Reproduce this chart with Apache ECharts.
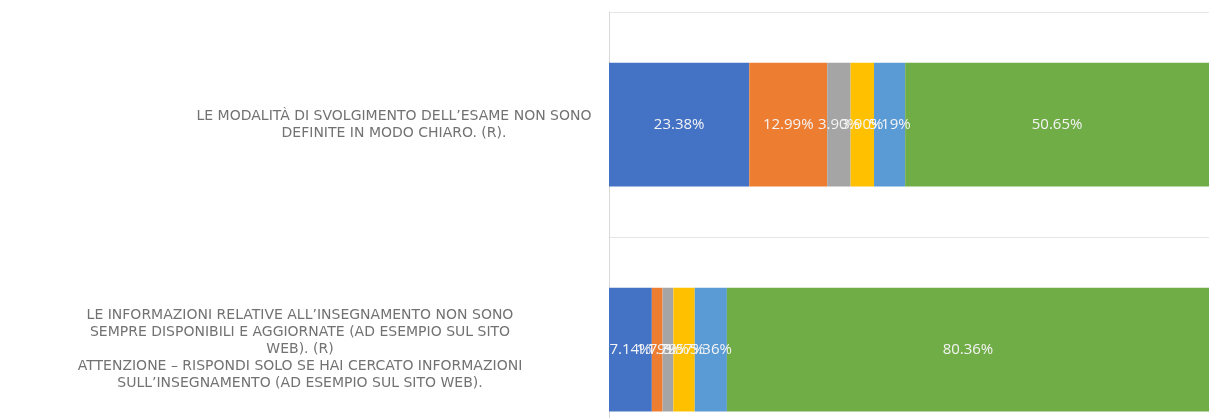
<!DOCTYPE html>
<html>
<head>
<meta charset="utf-8">
<style>
  html, body { margin: 0; padding: 0; background: #fff; }
  #chart { width: 1211px; height: 418px; }
</style>
<script src="https://cdn.jsdelivr.net/npm/echarts@6/dist/echarts.min.js"></script>
</head>
<body>
<div id="chart"></div>
<script>
// domande (categorie, dall'alto in basso)
const categories = [
  ['LE MODALITÀ DI SVOLGIMENTO DELL’ESAME NON SONO', 'DEFINITE IN MODO CHIARO. (R).'],
  ['LE INFORMAZIONI RELATIVE ALL’INSEGNAMENTO NON SONO', 'SEMPRE DISPONIBILI E AGGIORNATE (AD ESEMPIO SUL SITO', 'WEB). (R)', 'ATTENZIONE – RISPONDI SOLO SE HAI CERCATO INFORMAZIONI', 'SULL’INSEGNAMENTO (AD ESEMPIO SUL SITO WEB).']
]

// percentuali per risposta
const risposta1 = [23.38, 7.14]
const risposta2 = [12.99, 1.79]
const risposta3 = [3.90, 1.79]
const risposta4 = [3.90, 3.57]
const risposta5 = [5.19, 5.36]
const risposta6 = [50.65, 80.36]

const seriesData = [
  { name: 'Risposta 1', data: risposta1, color: '#4472C4' },
  { name: 'Risposta 2', data: risposta2, color: '#ED7D31' },
  { name: 'Risposta 3', data: risposta3, color: '#A5A5A5' },
  { name: 'Risposta 4', data: risposta4, color: '#FFC000' },
  { name: 'Risposta 5', data: risposta5, color: '#5B9BD5' },
  { name: 'Risposta 6', data: risposta6, color: '#70AD47' }
]

const labelFont = { color: '#727272', fontSize: 14, lineHeight: 17, fontFamily: 'DejaVu Sans' }

const chart = echarts.init(document.getElementById('chart'))
chart.setOption({
  animation: false,
  grid: {
    left: 609,
    right: 2,
    top: 12,
    height: 450,
    outerBoundsMode: 'none'
  },
  xAxis: {
    type: 'value',
    min: 0,
    max: 100,
    show: false
  },
  yAxis: {
    type: 'category',
    inverse: true,
    data: categories.map((c, i) => i),
    axisTick: { show: false },
    axisLine: { show: true, lineStyle: { color: '#d9d9d9', width: 1 } },
    splitLine: { show: true, lineStyle: { color: '#e6e6e6', width: 1 } },
    axisLabel: {
      margin: 19,
      align: 'right',
      ...labelFont,
      formatter: (v) => {
        const tag = +v === 0 ? 'a' : 'b'
        return categories[+v].map(l => '{' + tag + '|' + l + '}').join('\n')
      },
      rich: {
        a: { width: 392, align: 'center', ...labelFont },
        b: { width: 580, align: 'center', ...labelFont }
      }
    }
  },
  series: seriesData.map(s => ({
    name: s.name,
    type: 'bar',
    stack: 'tot',
    barWidth: '55%',
    data: s.data,
    itemStyle: { color: s.color },
    label: {
      show: true,
      position: 'inside',
      color: '#f4f4f4',
      fontSize: 15,
      fontFamily: 'Open Sans',
      formatter: p => p.value.toFixed(2) + '%'
    }
  }))
})
</script>
</body>
</html>
